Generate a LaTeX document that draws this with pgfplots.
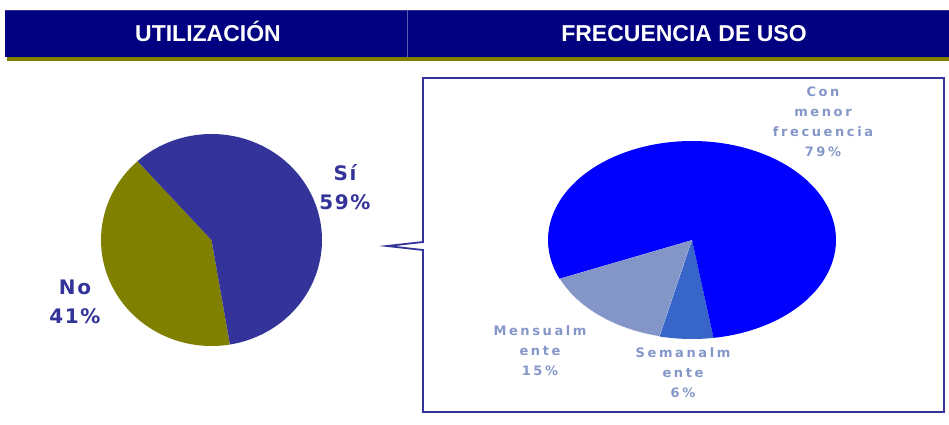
\documentclass[border=0pt]{standalone}
\usepackage{pgfplots}
\pgfplotsset{compat=1.18}
\usepackage{fontspec}
\setmainfont{Liberation Sans}
\newfontfamily\lblfont[LetterSpace=8]{DejaVu Sans}
\newfontfamily\smallfont[LetterSpace=20]{DejaVu Sans}
\definecolor{navyhd}{HTML}{000080}
\definecolor{olivebd}{HTML}{808000}
\definecolor{siblue}{HTML}{333399}
\definecolor{conmenor}{HTML}{0000FF}
\definecolor{mensual}{HTML}{8496C8}
\definecolor{semanal}{HTML}{3766C8}
\definecolor{lbl}{HTML}{8497C8}
% data (percent)
\def\pSi{59}\def\pNo{41}
\def\pCon{79}\def\pMen{15}\def\pSem{6}
\pgfmathsetmacro\sL{132}
\pgfmathsetmacro\aL{\sL+\pNo*3.6}
\pgfmathsetmacro\bL{\aL+\pSi*3.6}
\pgfmathsetmacro\sR{203}
\pgfmathsetmacro\aR{\sR+\pMen*3.6}
\pgfmathsetmacro\bR{\aR+\pSem*3.6}
\pgfmathsetmacro\cR{\bR+\pCon*3.6}
\begin{document}
\begin{tikzpicture}
\useasboundingbox (0pt,0pt) rectangle (949pt,424pt);
% header
\fill[olivebd] (7pt,363pt) rectangle (949pt,367pt);
\fill[navyhd] (5pt,367pt) rectangle (949pt,414pt);
\draw[siblue, line width=0.8pt] (5pt,414pt) -- (949pt,414pt);
\draw[siblue!80, line width=0.8pt] (407pt,367pt) -- (407pt,414pt);
\node[text=white, font=\fontsize{23}{26}\selectfont\bfseries, anchor=base, inner sep=0pt] at (208pt,382pt) {UTILIZACIÓN};
\node[text=white, font=\fontsize{23}{26}\selectfont\bfseries, anchor=base, inner sep=0pt] at (684pt,382pt) {FRECUENCIA DE USO};
% callout box
\draw[siblue, line width=1.8pt, line join=miter] (423pt,174pt) -- (387pt,178pt) -- (423pt,182pt) -- (423pt,346pt) -- (944pt,346pt) -- (944pt,12pt) -- (423pt,12pt) -- cycle;
\begin{axis}[at={(101pt,78pt)}, anchor=south west, scale only axis, width=221pt, height=212pt,
  hide axis, xmin=-1, xmax=1, ymin=-1, ymax=1, clip=false]
\addplot[fill=olivebd, draw=none, domain=\sL:\aL, samples=90] ({cos(x)},{sin(x)}) -- (axis cs:0,0) -- cycle;
\addplot[fill=siblue, draw=none, domain=\aL:\bL, samples=120] ({cos(x)},{sin(x)}) -- (axis cs:0,0) -- cycle;
\end{axis}
\begin{axis}[at={(548pt,85pt)}, anchor=south west, scale only axis, width=288pt, height=198pt,
  hide axis, xmin=-1, xmax=1, ymin=-1, ymax=1, clip=false]
\addplot[fill=mensual, draw=white, line width=0.4pt, domain=\sR:\aR, samples=40] ({cos(x)},{sin(x)}) -- (axis cs:0,0) -- cycle;
\addplot[fill=semanal, draw=none, domain=\aR:\bR, samples=20] ({cos(x)},{sin(x)}) -- (axis cs:0,0) -- cycle;
\addplot[fill=conmenor, draw=none, domain=\bR:\cR, samples=150] ({cos(x)},{sin(x)}) -- (axis cs:0,0) -- cycle;
\end{axis}
% left labels
\node[text=siblue, font=\lblfont\fontsize{20}{29}\selectfont\bfseries, align=center] at (345pt,237pt) {Sí\\59\%};
\node[text=siblue, font=\lblfont\fontsize{20}{29}\selectfont\bfseries, align=center] at (75pt,122pt) {No\\41\%};
% right labels
\node[text=lbl, font=\smallfont\fontsize{13}{20}\selectfont\bfseries, align=center] at (823pt,302pt) {Con\\menor\\frecuencia\\79\%};
\node[text=lbl, font=\smallfont\fontsize{13}{20}\selectfont\bfseries, align=center] at (540pt,73pt) {Mensualm\\ente\\15\%};
\node[text=lbl, font=\smallfont\fontsize{13}{20}\selectfont\bfseries, align=center] at (683pt,51pt) {Semanalm\\ente\\6\%};
\end{tikzpicture}
\end{document}
